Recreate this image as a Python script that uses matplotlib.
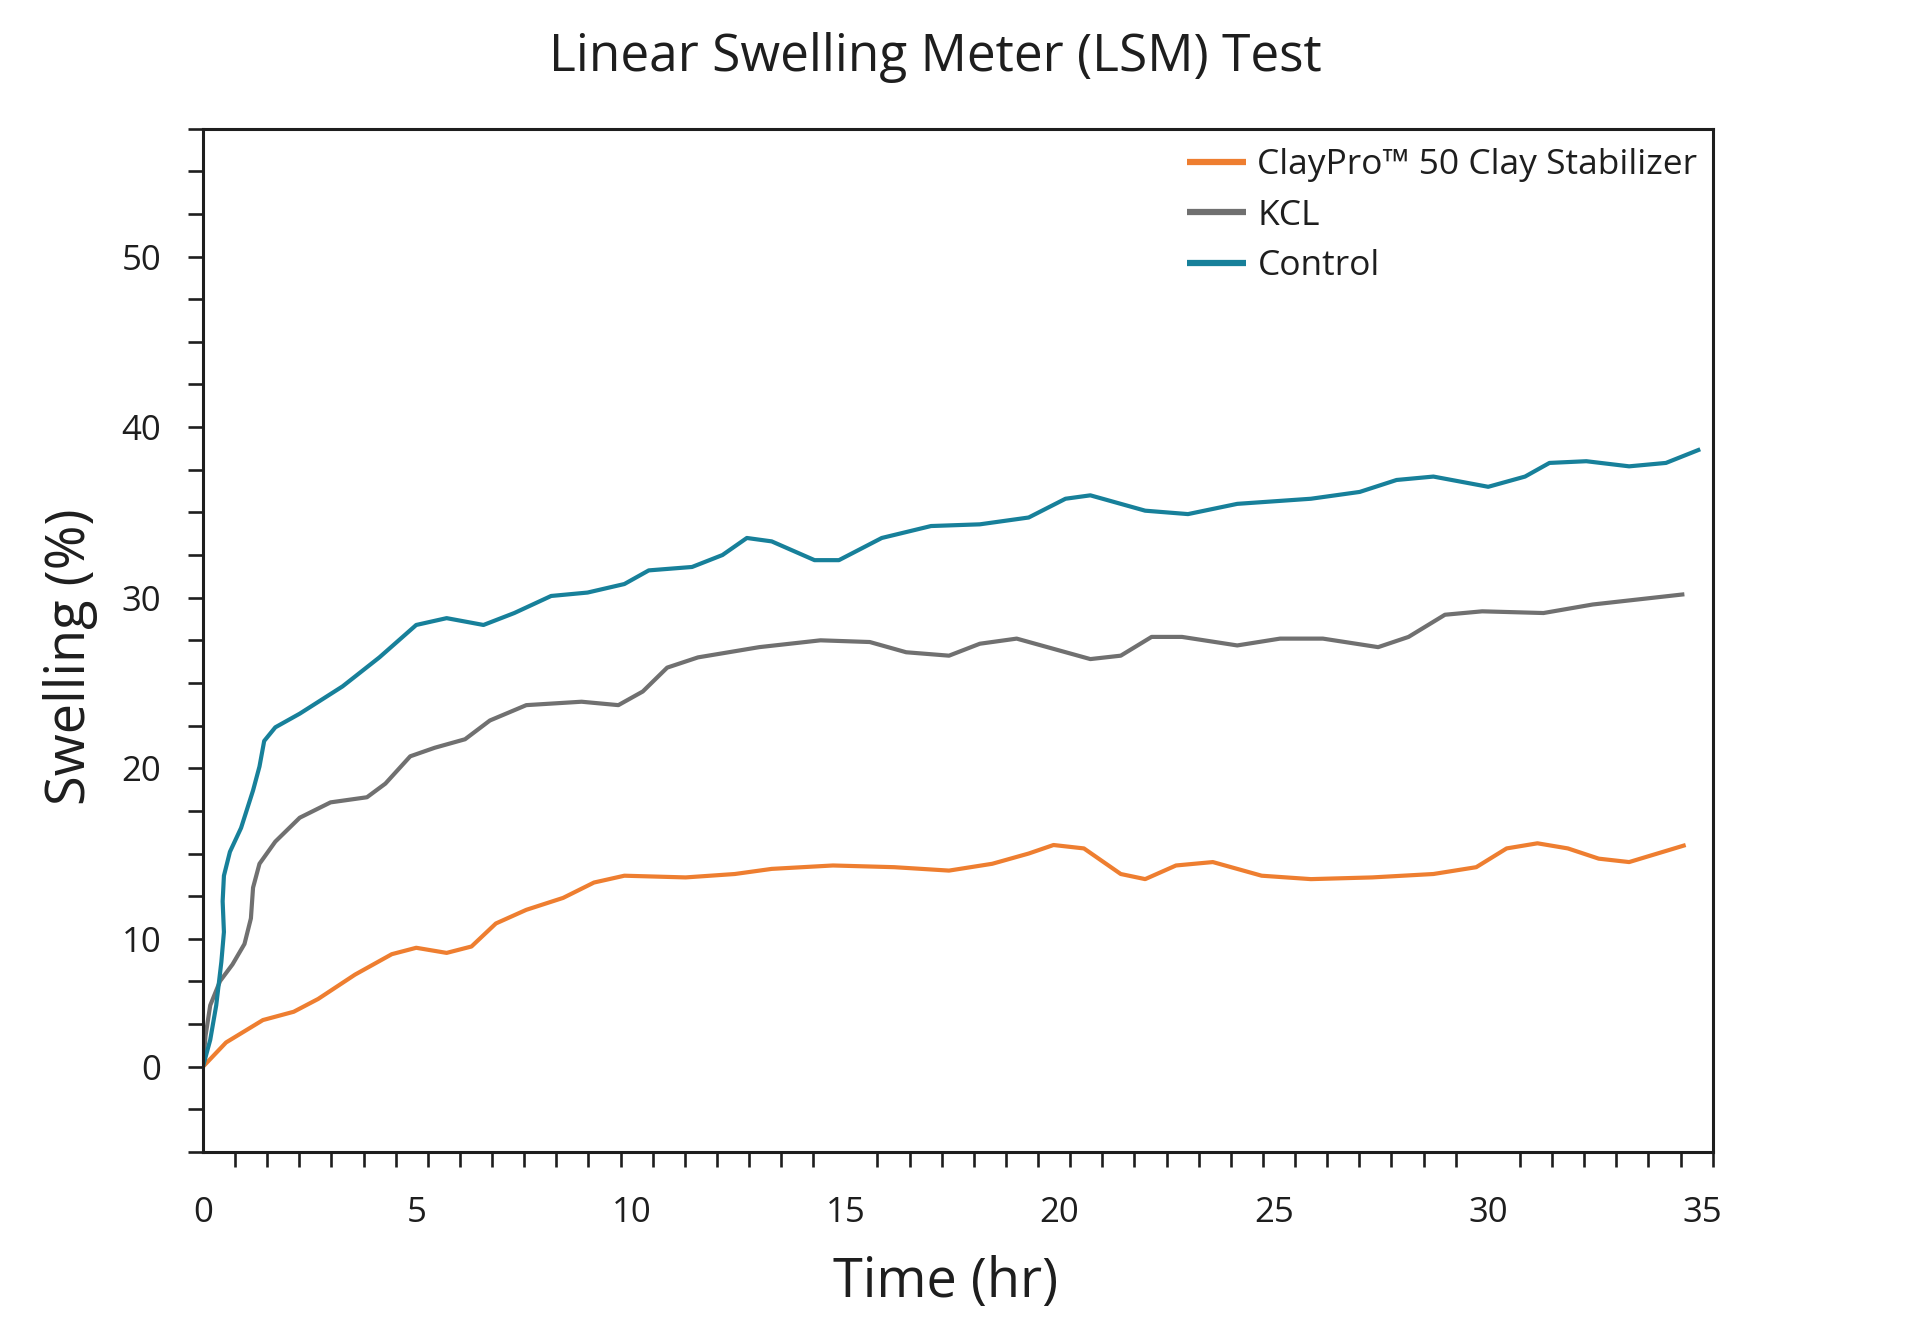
import numpy as np
import matplotlib
matplotlib.use('Agg')
import matplotlib.pyplot as plt
from matplotlib.ticker import FixedLocator, NullFormatter

plt.rcParams['font.family'] = ['Open Sans', 'DejaVu Sans']

# values (time in hr, swelling in %)
claypro_t = [0, 0.54, 1.40, 2.12, 2.69, 3.55, 4.41, 4.98, 5.69, 6.27, 6.84, 7.55, 8.41, 9.13,
             9.84, 11.27, 12.42, 13.28, 14.71, 16.14, 17.42, 18.43, 19.28, 19.86, 20.57, 21.43,
             22.0, 22.72, 23.58, 24.72, 25.87, 27.30, 28.73, 29.73, 30.44, 31.16, 31.87, 32.59,
             33.30, 34.62]
claypro_s = [0, 1.9, 3.65, 4.3, 5.3, 7.2, 8.8, 9.3, 8.9, 9.4, 10.9, 11.7, 12.4, 13.3,
             13.7, 13.6, 13.8, 14.1, 14.3, 14.2, 14.0, 14.4, 15.0, 15.5, 15.3, 13.8,
             13.5, 14.3, 14.5, 13.7, 13.5, 13.6, 13.8, 14.2, 15.3, 15.6, 15.3, 14.7,
             14.5, 15.5]

kcl_t = [0, 0.06, 0.17, 0.40, 0.69, 0.97, 1.12, 1.17, 1.32, 1.69, 2.26, 2.98, 3.83, 4.26,
         4.84, 5.41, 6.12, 6.70, 7.55, 8.84, 9.70, 10.27, 10.84, 11.56, 12.99, 14.42, 15.57,
         16.42, 17.42, 18.14, 19.0, 19.86, 20.72, 21.43, 22.15, 22.86, 24.15, 25.15, 26.15,
         27.44, 28.15, 29.0, 29.87, 31.3, 32.45, 34.59]
kcl_s = [0, 2.4, 4.8, 6.7, 8.0, 9.6, 11.2, 13.0, 14.4, 15.7, 17.1, 18.0, 18.3, 19.1,
         20.7, 21.2, 21.7, 22.8, 23.7, 23.9, 23.7, 24.5, 25.9, 26.5, 27.1, 27.5, 27.4,
         26.8, 26.6, 27.3, 27.6, 27.0, 26.4, 26.6, 27.7, 27.7, 27.2, 27.6, 27.6,
         27.1, 27.7, 29.0, 29.2, 29.1, 29.6, 30.2]

control_t = [0, 0.17, 0.31, 0.43, 0.49, 0.46, 0.49, 0.63, 0.89, 1.17, 1.32, 1.43, 1.69, 2.26,
             3.26, 4.12, 4.98, 5.69, 6.55, 7.27, 8.13, 8.98, 9.84, 10.41, 11.42, 12.13, 12.70,
             13.28, 14.28, 14.85, 15.85, 17.0, 18.14, 19.28, 20.14, 20.72, 22.0, 23.0, 24.15,
             25.87, 27.01, 27.87, 28.73, 30.01, 30.87, 31.44, 32.30, 33.30, 34.16, 34.96]
control_s = [0, 2.1, 4.8, 8.2, 10.4, 12.2, 13.7, 15.1, 16.5, 18.7, 20.1, 21.6, 22.4, 23.2,
             24.8, 26.5, 28.4, 28.8, 28.4, 29.1, 30.1, 30.3, 30.8, 31.6, 31.8, 32.5, 33.5,
             33.3, 32.2, 32.2, 33.5, 34.2, 34.3, 34.7, 35.8, 36.0, 35.1, 34.9, 35.5,
             35.8, 36.2, 36.9, 37.1, 36.5, 37.1, 37.9, 38.0, 37.7, 37.9, 38.7]

series = ['ClayPro\u2122 50 Clay Stabilizer', 'KCL', 'Control']
colors = ['#EE7E30', '#707070', '#17809A']

y_labels = [0, 10, 20, 30, 40, 50]
x_labels = [0, 5, 10, 15, 20, 25, 30, 35]


# the original axis squeezes 0-10 into three ticks, 2.5 per tick above 10
def fwd(v):
    v = np.asarray(v, dtype=float)
    return np.where(v >= 10, v - 2.5, 0.75 * v)


def inv(u):
    u = np.asarray(u, dtype=float)
    return np.where(u >= 7.5, u + 2.5, u / 0.75)


fig = plt.figure(figsize=(19.2, 13.34), dpi=100)
ax = fig.add_axes([0.1057, 0.1364, 0.7863, 0.7672])

for t, s, lab, c in zip([claypro_t, kcl_t, control_t], [claypro_s, kcl_s, control_s],
                        series, colors):
    ax.plot(t, s, color=c, lw=3.0, label=lab, solid_joinstyle='round',
            solid_capstyle='butt')

ax.set_yscale('function', functions=(fwd, inv))
ax.set_ylim(-20 / 3, 57.5)
ax.set_xlim(0, 35.25)

ax.yaxis.set_major_locator(FixedLocator(y_labels))
ax.set_yticklabels([str(v) for v in y_labels])
minor_y = [-20 / 3, -10 / 3, 10 / 3, 20 / 3] + [v for v in np.arange(12.5, 57.6, 2.5) if v % 10 != 0]
ax.yaxis.set_minor_locator(FixedLocator(minor_y))
ax.yaxis.set_minor_formatter(NullFormatter())

ax.xaxis.set_major_locator(FixedLocator(x_labels))
ax.set_xticklabels([str(v) for v in x_labels])
ax.xaxis.set_minor_locator(FixedLocator(np.arange(0, 35.3, 0.75)))

ink = '#1e1e1e'
for sp in ax.spines.values():
    sp.set_linewidth(2.2)
    sp.set_color(ink)

ax.tick_params(axis='y', which='both', direction='out', length=11, width=1.9, color=ink,
               labelsize=25, labelcolor=ink, pad=19)
ax.tick_params(axis='x', which='minor', direction='out', length=11, width=1.9, color=ink)
ax.tick_params(axis='x', which='major', length=0, labelsize=25, labelcolor=ink, pad=32)

ax.set_xlabel('Time (hr)', fontsize=39, color=ink, va='center')
ax.xaxis.set_label_coords(0.492, -0.127)
ax.set_ylabel('Swelling (%)', fontsize=39, color=ink, va='center')
ax.yaxis.set_label_coords(-0.088, 0.484)

fig.text(0.487, 0.957, 'Linear Swelling Meter (LSM) Test', fontsize=37, color=ink,
         ha='center', va='center')

leg = ax.legend(loc='upper left', bbox_to_anchor=(0.652, 0.981), frameon=False,
                fontsize=25.5, handlelength=1.65, handletextpad=0.33, labelspacing=0.47,
                borderpad=0, borderaxespad=0)
for h in leg.get_lines():
    h.set_linewidth(4.5)
for txt in leg.get_texts():
    txt.set_color(ink)

fig.savefig('out.png', dpi=100, facecolor='white')
